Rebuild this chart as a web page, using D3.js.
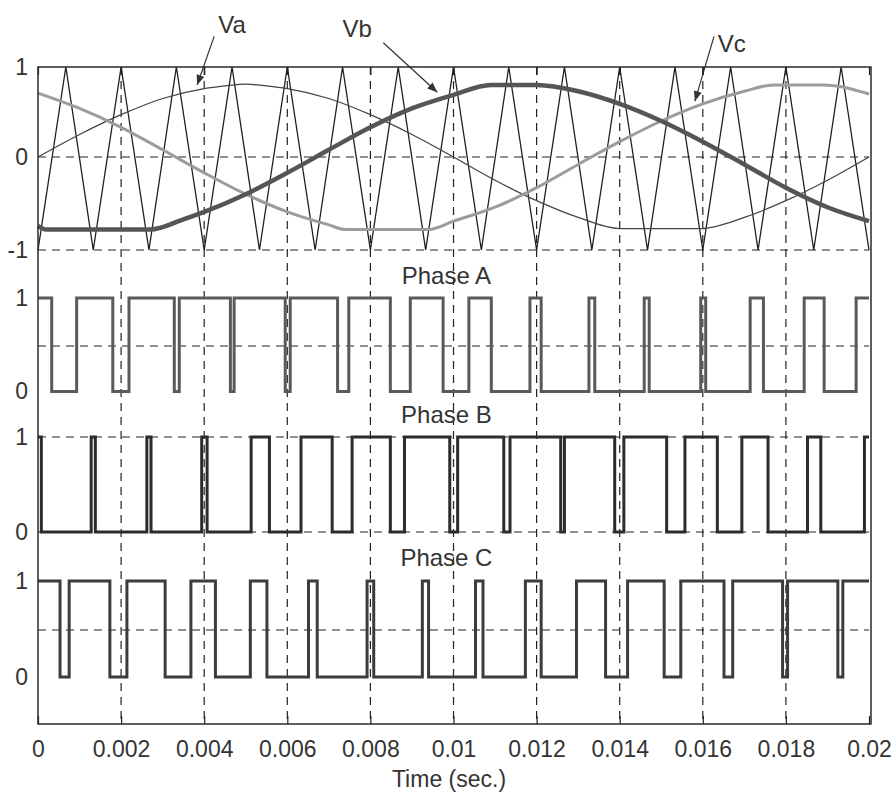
<!DOCTYPE html>
<html>
<head>
<meta charset="utf-8">
<script src="https://cdn.jsdelivr.net/npm/d3@7"></script>
<style>
    body { margin: 0; background: #fff; }
    svg text { font-family: "Liberation Sans", Arial, sans-serif; fill: #333; }
</style>
</head>
<body>
<div id="chart"></div>
<script>
// all times in ms
const xTicks = [0, 0.002, 0.004, 0.006, 0.008, 0.01, 0.012, 0.014, 0.016, 0.018, 0.02];

// stacked y axis: level of each tick and the text shown there
const yTickPos = [1, 0, -1, -1.5, -2.5, -3, -4, -4.5, -5.5];
const yTickText = ["1", "0", "-1", "1", "0", "1", "0", "1", "0"];
const yGrid = [0, -1, -2, -3, -4, -5];

// triangle carrier, 750 Hz
const carrierT = [0, 0.67, 1.33, 2.0, 2.67, 3.33, 4.0, 4.67, 5.33, 6.0, 6.67, 7.33, 8.0, 8.67, 9.33, 10.0,
    10.67, 11.33, 12.0, 12.67, 13.33, 14.0, 14.67, 15.33, 16.0, 16.67, 17.33, 18.0, 18.67, 19.33, 20.0];
const carrierV = [-1, 1, -1, 1, -1, 1, -1, 1, -1, 1, -1, 1, -1, 1, -1, 1,
    -1, 1, -1, 1, -1, 1, -1, 1, -1, 1, -1, 1, -1, 1, -1];

// reference sines (flat runs near the peaks are as drawn in the original)
const vaT = [0, 1, 2, 3, 4, 4.5, 5.0, 5.5, 6, 7, 8, 9, 10, 11, 12, 13, 14, 15.95, 17, 18, 19, 20];
const vaV = [0, 0.25, 0.47, 0.65, 0.76, 0.79, 0.81, 0.79, 0.76, 0.65, 0.47, 0.25, 0, -0.25, -0.47, -0.65, -0.77, -0.77, -0.65, -0.47, -0.25, 0];

const vbT = [0, 0.2, 2.7, 3.5, 4, 5, 6, 7, 8, 9, 10, 10.9, 12.0, 13, 14, 15, 16, 17, 18, 19, 20];
const vbV = [-0.74, -0.78, -0.78, -0.67, -0.59, -0.40, -0.17, 0.08, 0.33, 0.54, 0.69, 0.80, 0.80, 0.73, 0.59, 0.40, 0.17, -0.08, -0.33, -0.54, -0.69];

const vcT = [0, 1, 2, 3, 4, 5, 6, 7, 7.4, 9.4, 10, 11, 12, 13, 14, 15, 16, 17, 17.7, 18.9, 20];
const vcV = [0.71, 0.54, 0.33, 0.08, -0.17, -0.40, -0.59, -0.73, -0.78, -0.78, -0.69, -0.54, -0.33, -0.08, 0.17, 0.40, 0.59, 0.73, 0.80, 0.80, 0.70];

// switching edges of the three legs (state toggles at each time)
const phaseAStart = 1;
const phaseAEdges = [0.33, 0.93, 1.80, 2.19, 3.28, 3.40, 4.63, 4.72, 5.95, 6.07, 7.21, 7.48, 8.48, 8.96, 9.75,
    10.37, 10.91, 11.84, 12.11, 13.26, 13.40, 14.59, 14.71, 15.95, 16.07, 17.14, 17.46, 18.44, 18.92, 19.69];
const phaseBStart = 1;
const phaseBEdges = [0.08, 1.28, 1.38, 2.62, 2.72, 3.94, 4.07, 5.13, 5.57, 6.33, 7.08, 7.56, 8.48, 8.82, 9.91,
    10.10, 11.21, 11.36, 12.58, 12.67, 13.88, 14.10, 15.13, 15.57, 16.35, 16.94, 17.57, 18.52, 18.84, 19.89];
const phaseCStart = 1;
const phaseCEdges = [0.53, 0.75, 1.73, 2.14, 3.06, 3.68, 4.27, 5.11, 5.51, 6.51, 6.72, 7.92, 8.08, 9.25, 9.40,
    10.53, 10.71, 11.73, 12.11, 12.96, 13.66, 14.19, 15.07, 15.47, 16.51, 16.72, 17.92, 18.04, 19.25, 19.37];

const phaseNames = ["Phase A", "Phase B", "Phase C"];
const phaseOffsets = [-2.5, -4, -5.5];

// arrow labels: text pos, arrow tail, arrow tip (t in ms, v in top panel units)
const arrowNames = ["Va", "Vb", "Vc"];
const arrowText = [[4.34, 1.38], [7.33, 1.33], [16.36, 1.17]];
const arrowTail = [[4.24, 1.34], [8.31, 1.27], [16.27, 1.34]];
const arrowTip = [[3.83, 0.80], [9.61, 0.72], [15.81, 0.62]];

const graph = {
    width: 896,
    height: 795,
    left: 38,
    right: 869,
    top: 67,
    bottom: 724
};

const svg = d3.select("#chart").append("svg")
    .attr("width", graph.width)
    .attr("height", graph.height);

const x = d3.scaleLinear().domain([0, 0.02]).range([graph.left, graph.right]);
// stacked levels, pinned to the grid rows of the original figure
const y = d3.scaleLinear()
    .domain([1, 0, -1, -2, -3, -4, -5, -6])
    .range([67, 157, 250, 346, 437, 532, 630, 724]);

const xt = function (t) { return x(t / 1000); };

// grid
svg.append("g").selectAll("line").data(xTicks.slice(1, -1)).join("line")
    .attr("x1", d => x(d)).attr("x2", d => x(d))
    .attr("y1", graph.top).attr("y2", graph.bottom)
    .attr("stroke", "#222").attr("stroke-width", 1.2).attr("stroke-dasharray", "8,6");
svg.append("g").selectAll("line").data(yGrid).join("line")
    .attr("x1", graph.left).attr("x2", graph.right)
    .attr("y1", d => y(d)).attr("y2", d => y(d))
    .attr("stroke", "#222").attr("stroke-width", 1.2).attr("stroke-dasharray", "8,6");

// top panel
const topLine = d3.line().x(d => xt(d[0])).y(d => y(d[1]));

svg.append("path")
    .datum(d3.zip(carrierT, carrierV))
    .attr("d", topLine)
    .attr("fill", "none").attr("stroke", "#1e1e1e").attr("stroke-width", 1.3);

const sineLine = d3.line().curve(d3.curveMonotoneX).x(d => xt(d[0])).y(d => y(d[1]));

svg.append("path").datum(d3.zip(vaT, vaV)).attr("d", sineLine)
    .attr("fill", "none").attr("stroke", "#444").attr("stroke-width", 1.3);
svg.append("path").datum(d3.zip(vcT, vcV)).attr("d", sineLine)
    .attr("fill", "none").attr("stroke", "#9c9c9c").attr("stroke-width", 3);
svg.append("path").datum(d3.zip(vbT, vbV)).attr("d", sineLine)
    .attr("fill", "none").attr("stroke", "#555").attr("stroke-width", 4.5);

// arrows
svg.append("defs").append("marker")
    .attr("id", "head").attr("viewBox", "0 0 10 10")
    .attr("refX", 10).attr("refY", 5)
    .attr("markerWidth", 12).attr("markerHeight", 10)
    .attr("markerUnits", "userSpaceOnUse")
    .attr("orient", "auto")
    .append("path").attr("d", "M0,1 L10,5 L0,9 Z").attr("fill", "#333");

arrowNames.forEach(function (name, i) {
    svg.append("line")
        .attr("x1", xt(arrowTail[i][0])).attr("y1", y(arrowTail[i][1]))
        .attr("x2", xt(arrowTip[i][0])).attr("y2", y(arrowTip[i][1]))
        .attr("stroke", "#333").attr("stroke-width", 1.2)
        .attr("marker-end", "url(#head)");
    svg.append("text")
        .attr("x", xt(arrowText[i][0])).attr("y", y(arrowText[i][1]))
        .attr("font-size", 24)
        .text(name);
});

// switching signals
const pulseLine = d3.line().curve(d3.curveStepAfter).x(d => xt(d[0])).y(d => y(d[1]));
const phaseColors = ["#5a5a5a", "#2c2c2c", "#3c3c3c"];

[[phaseAStart, phaseAEdges], [phaseBStart, phaseBEdges], [phaseCStart, phaseCEdges]].forEach(function (p, i) {
    let state = p[0];
    let pts = [[0, state + phaseOffsets[i]]];
    p[1].forEach(function (e) {
        state = 1 - state;
        pts.push([e, state + phaseOffsets[i]]);
    });
    pts.push([20, state + phaseOffsets[i]]);

    svg.append("path").datum(pts).attr("d", pulseLine)
        .attr("fill", "none").attr("stroke", phaseColors[i]).attr("stroke-width", 3);

    svg.append("text")
        .attr("x", xt(9.83)).attr("y", y(1.15 + phaseOffsets[i]))
        .attr("text-anchor", "middle").attr("font-size", 24)
        .text(phaseNames[i]);
});

// frame and axes
svg.append("rect")
    .attr("x", graph.left).attr("y", graph.top)
    .attr("width", graph.right - graph.left + 2).attr("height", graph.bottom - graph.top)
    .attr("fill", "none").attr("stroke", "#2a2a2a").attr("stroke-width", 1.5);

const xAxis = svg.append("g").attr("class", "x-axis")
    .attr("transform", "translate(0," + graph.bottom + ")")
    .call(d3.axisBottom(x).tickValues(xTicks).tickFormat(d3.format("~g")).tickSize(-8).tickPadding(17));
xAxis.select(".domain").remove();
xAxis.selectAll("text").attr("font-size", 23).attr("font-family", null);
xAxis.selectAll(".tick line").attr("stroke", "#222").attr("stroke-width", 1.2);

const xTop = svg.append("g")
    .attr("transform", "translate(0," + graph.top + ")")
    .call(d3.axisTop(x).tickValues(xTicks).tickFormat("").tickSize(-8));
xTop.select(".domain").remove();
xTop.selectAll(".tick line").attr("stroke", "#222").attr("stroke-width", 1.2);

const yAxis = svg.append("g").attr("class", "y-axis")
    .attr("transform", "translate(" + graph.left + ",0)")
    .call(d3.axisLeft(y).tickValues(yTickPos).tickFormat((d, i) => yTickText[i]).tickSize(0).tickPadding(10));
yAxis.select(".domain").remove();
yAxis.selectAll("text").attr("font-size", 23).attr("font-family", null);

svg.append("text")
    .attr("x", 449).attr("y", 787)
    .attr("text-anchor", "middle").attr("font-size", 23)
    .text("Time (sec.)");
</script>
</body>
</html>
